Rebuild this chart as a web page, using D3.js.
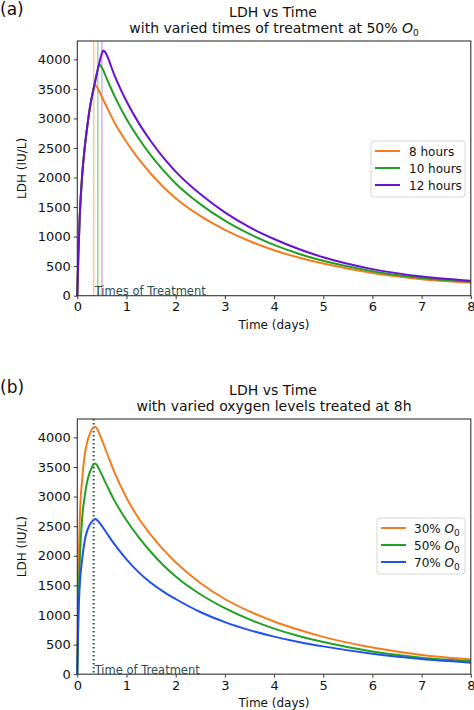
<!DOCTYPE html>
<html><head><meta charset="utf-8">
<script src="https://cdn.jsdelivr.net/npm/d3@7"></script>
<style>body{margin:0;background:#fff}svg{display:block;font-family:"DejaVu Sans",sans-serif}</style>
</head><body>
<svg id="c" width="474" height="710"></svg>
<script>
// ---------- DATA ----------
const xTicks = [0,1,2,3,4,5,6,7,8];
const yTicks = [0,500,1000,1500,2000,2500,3000,3500,4000];

// Panel (a): varied times of treatment at 50% O0
const aLabels = ["8 hours","10 hours","12 hours"];
const aTreat = [0.333, 0.417, 0.5];
const a8t  = [0,0.02,0.05,0.1,0.15,0.2,0.25,0.3,0.333,0.36,0.4,0.45,0.6,0.75,1,1.25,1.5,1.75,2,2.5,3,3.5,4,4.5,5,6,7,8];
const a8v  = [0,650,1350,2050,2500,2850,3150,3380,3510,3560,3530,3450,3190,2940,2600,2310,2060,1840,1650,1350,1115,925,770,645,545,385,280,222];
const a10t = [0,0.02,0.05,0.1,0.15,0.2,0.25,0.3,0.333,0.4,0.417,0.44,0.46,0.5,0.6,0.75,1,1.25,1.5,1.75,2,2.5,3,3.5,4,4.5,5,6,7,8];
const a10v = [0,650,1350,2050,2500,2850,3150,3380,3510,3770,3830,3910,3905,3860,3670,3390,2990,2660,2370,2120,1900,1550,1270,1045,860,710,590,415,300,237];
const a12t = [0,0.02,0.05,0.1,0.15,0.2,0.25,0.3,0.333,0.4,0.45,0.5,0.525,0.56,0.6,0.75,1,1.25,1.5,1.75,2,2.5,3,3.5,4,4.5,5,6,7,8];
const a12v = [0,650,1350,2050,2500,2850,3150,3380,3510,3770,3950,4100,4150,4130,4070,3740,3290,2920,2610,2335,2100,1720,1410,1160,960,790,650,450,325,254];

// Panel (b): varied oxygen levels treated at 8h
const bLabels = ["30%","50%","70%"];
const bTreat = 0.333;
const b30t = [0,0.02,0.05,0.1,0.15,0.2,0.25,0.3,0.333,0.36,0.4,0.45,0.6,0.75,1,1.25,1.5,1.75,2,2.5,3,3.5,4,4.5,5,6,7,8];
const b30v = [0,1500,2600,3300,3700,3920,4050,4140,4170,4180,4150,4060,3740,3420,2980,2630,2350,2105,1890,1540,1270,1060,890,750,630,450,325,250];
const b50t = [0,0.02,0.05,0.1,0.15,0.2,0.25,0.3,0.333,0.36,0.4,0.45,0.6,0.75,1,1.25,1.5,1.75,2,2.5,3,3.5,4,4.5,5,6,7,8];
const b50v = [0,1000,1900,2650,3000,3250,3400,3500,3545,3560,3530,3450,3190,2940,2600,2310,2060,1840,1650,1350,1115,925,770,645,545,385,280,222];
const b70t = [0,0.02,0.05,0.1,0.15,0.2,0.25,0.3,0.333,0.37,0.4,0.45,0.6,0.75,1,1.25,1.5,1.75,2,2.5,3,3.5,4,4.5,5,6,7,8];
const b70v = [0,900,1500,1950,2250,2420,2520,2580,2605,2620,2605,2560,2380,2200,1940,1720,1540,1395,1270,1050,880,745,635,545,470,345,255,195];

// ---------- STYLE ----------
const cOrange = "#f57c1e", cGreen = "#23a023", cPurple = "#6a10d0", cBlue = "#2050ee";
const svg = d3.select("#c");
const M = {left:77.3, right:470.8};

function panel(cfg){
  const g = svg.append("g");
  const x = d3.scaleLinear().domain([0,8]).range([M.left, M.right]);
  const y = d3.scaleLinear().domain([0,4310]).range([cfg.bottom, cfg.top]);
  const cx = (M.left+M.right)/2;
  g.append("text").attr("x",0).attr("y",cfg.top-26).attr("font-size",17).attr("fill","#111").text(cfg.tag);
  g.append("text").attr("x",cx-1).attr("y",cfg.top-24).attr("text-anchor","middle").attr("font-size",14).attr("fill","#111").text("LDH vs Time");
  const t2 = g.append("text").attr("x",cx).attr("y",cfg.top-8).attr("text-anchor","middle").attr("font-size",14).attr("fill","#111");
  cfg.sub(t2);

  cfg.vlines(g,x,y);

  const line = d3.line().x(d=>x(d[0])).y(d=>y(d[1])).curve(d3.curveMonotoneX);
  cfg.series.forEach(s=>{
    g.append("path").datum(d3.zip(s.t,s.v)).attr("d",line).attr("fill","none")
      .attr("stroke",s.color).attr("stroke-width",2).attr("stroke-linejoin","round");
  });

  const xa = g.append("g").attr("transform",`translate(0,${cfg.bottom})`)
    .call(d3.axisBottom(x).tickValues(xTicks).tickFormat(d3.format("d")).tickSize(3.5).tickPadding(3));
  const ya = g.append("g").attr("transform",`translate(${M.left},0)`)
    .call(d3.axisLeft(y).tickValues(yTicks).tickFormat(d3.format("d")).tickSize(3.5).tickPadding(3));
  [xa,ya].forEach(a=>{
    a.select(".domain").remove();
    a.selectAll("line").attr("stroke","#222").attr("stroke-width",0.9);
    a.selectAll("text").attr("font-size",13).attr("fill","#111").attr("font-family","DejaVu Sans");
  });
  g.append("rect").attr("x",M.left).attr("y",cfg.top).attr("width",M.right-M.left).attr("height",cfg.bottom-cfg.top)
    .attr("fill","none").attr("stroke","#333").attr("stroke-width",1.1);

  g.append("text").attr("x",cx).attr("y",cfg.bottom+33).attr("text-anchor","middle").attr("font-size",12).attr("fill","#111").text("Time (days)");
  g.append("text").attr("transform",`translate(26,${(cfg.top+cfg.bottom)/2}) rotate(-90)`).attr("text-anchor","middle").attr("font-size",12).attr("fill","#111").text("LDH (IU/L)");

  const L = cfg.legend;
  const lg = g.append("g");
  lg.append("rect").attr("x",L.x).attr("y",L.y).attr("width",L.w).attr("height",56).attr("rx",3)
    .attr("fill","#fff").attr("stroke","#d6d6d6").attr("stroke-width",1);
  cfg.series.forEach((s,i)=>{
    const yy = L.y + 10 + i*17;
    lg.append("line").attr("x1",L.x+4).attr("x2",L.x+29).attr("y1",yy).attr("y2",yy).attr("stroke",s.color).attr("stroke-width",2);
    const tx = lg.append("text").attr("x",L.x+L.tx).attr("y",yy+4.5).attr("font-size",12).attr("fill","#111");
    s.label(tx);
  });
}

function o0(t){
  t.append("tspan").attr("font-style","italic").text("O");
  t.append("tspan").attr("font-size",9).attr("dy",3).text("0");
}

panel({
  tag:"(a)", top:41, bottom:295.7,
  sub: t=>{ t.append("tspan").text("with varied times of treatment at 50% "); o0(t); },
  series:[
    {t:a8t, v:a8v, color:cOrange, label:t=>t.text(aLabels[0])},
    {t:a10t,v:a10v,color:cGreen,  label:t=>t.text(aLabels[1])},
    {t:a12t,v:a12v,color:cPurple, label:t=>t.text(aLabels[2])}
  ],
  vlines:(g,x,y)=>{
    const cols = ["#f6c995","#9fd39f","#d7aef2"];
    aTreat.forEach((tt,i)=>{
      g.append("line").attr("x1",x(tt)).attr("x2",x(tt)).attr("y1",y.range()[1]).attr("y2",y.range()[0])
        .attr("stroke",cols[i]).attr("stroke-width",1.5);
    });
    g.append("text").attr("x",x(aTreat[0])+1).attr("y",y(0)-0.5).attr("font-size",11.5).attr("fill","#2f4f4f").text("Times of Treatment");
  },
  legend:{x:371, y:141, w:94, tx:38}
});

panel({
  tag:"(b)", top:419, bottom:674.2,
  sub: t=>{ t.text("with varied oxygen levels treated at 8h"); },
  series:[
    {t:b30t,v:b30v,color:cOrange, label:t=>{t.append("tspan").text(bLabels[0]+" "); o0(t);}},
    {t:b50t,v:b50v,color:cGreen,  label:t=>{t.append("tspan").text(bLabels[1]+" "); o0(t);}},
    {t:b70t,v:b70v,color:cBlue,   label:t=>{t.append("tspan").text(bLabels[2]+" "); o0(t);}}
  ],
  vlines:(g,x,y)=>{
    g.append("line").attr("x1",x(bTreat)).attr("x2",x(bTreat)).attr("y1",y.range()[1]).attr("y2",y.range()[0])
      .attr("stroke","#2f4f4f").attr("stroke-width",2).attr("stroke-dasharray","1.5,2.5");
    g.append("text").attr("x",x(bTreat)+1).attr("y",y(0)-0.5).attr("font-size",11.5).attr("fill","#2f4f4f").text("Time of Treatment");
  },
  legend:{x:377, y:518, w:88, tx:37}
});
</script>
</body></html>
